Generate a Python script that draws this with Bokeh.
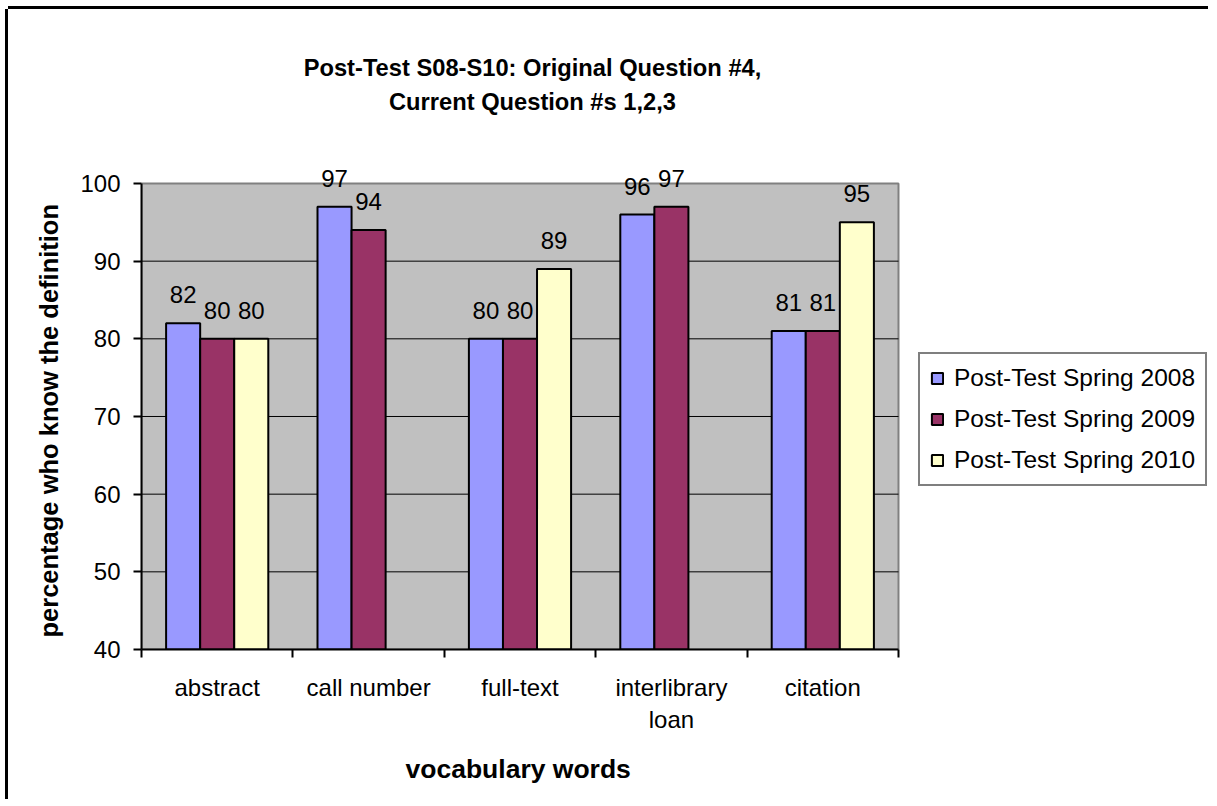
from bokeh.plotting import figure
from bokeh.models import (Range1d, FixedTicker, LabelSet, Label, Legend, LegendItem,
                          ColumnDataSource, Title)
from bokeh.core.properties import value
from bokeh.embed import file_html
from bokeh.resources import INLINE

categories = ["abstract", "call number", "full-text", "interlibrary\nloan", "citation"]
series_names = ["Post-Test Spring 2008", "Post-Test Spring 2009", "Post-Test Spring 2010"]
spring_2008 = [82, 97, 80, 96, 81]
spring_2009 = [80, 94, 80, 97, 81]
spring_2010 = [80, None, 89, None, 95]
colors = ["#9999FF", "#993366", "#FFFFCC"]
y_ticks = [40, 50, 60, 70, 80, 90, 100]
grid_ticks = [50, 60, 70, 80, 90]
title_lines = ["Post-Test S08-S10: Original Question #4,", "Current Question #s 1,2,3"]
x_label = "vocabulary words"
y_label = "percentage who know the definition"

FONT = "Liberation Sans"
BAR_W = 0.225
N = len(categories)
Y_MIN, Y_MAX = 40, 100
Y_TOP = 118.41   # room above the plot area for the title
X_END = 7.0476   # room right of the plot area for the legend

p = figure(width=1200, height=790, output_backend="svg", toolbar_location=None,
           x_range=Range1d(0, X_END), y_range=Range1d(Y_MIN, Y_TOP),
           min_border_left=133, min_border_top=31, min_border_right=0,
           min_border_bottom=150,
           background_fill_color="white", border_fill_color="white",
           outline_line_color=None)
p.styles = {"position": "relative", "left": "8px", "top": "9px",
            "margin-bottom": "-14px", "background-color": "white",
            "box-shadow": "-3px 0px 0px 0px black, 0px -3px 0px 0px black"}

# gray plot area
p.quad(left=[0], right=[N], bottom=[Y_MIN], top=[Y_MAX],
       fill_color="#C0C0C0", line_color="#808080", line_width=2, level="image")
# grid lines inside the plot area
p.segment(x0=[0] * len(grid_ticks), x1=[N] * len(grid_ticks), y0=grid_ticks, y1=grid_ticks,
          line_color="black", line_width=1, level="image")
p.xgrid.visible = False
p.ygrid.visible = False

renderers = []
for k, (vals, col) in enumerate(zip([spring_2008, spring_2009, spring_2010], colors)):
    xs, ys = [], []
    for i, v in enumerate(vals):
        if v is None:
            continue
        xs.append(i + 0.5 + (k - 1) * BAR_W)
        ys.append(v)
    src = ColumnDataSource(dict(x=xs, top=ys, txt=[str(v) for v in ys]))
    r = p.vbar(x="x", top="top", bottom=Y_MIN, width=BAR_W, source=src,
               fill_color=col, line_color="black", line_width=2)
    renderers.append(r)
    lbl = LabelSet(x="x", y="top", text="txt", source=src, y_offset=20,
                   text_align="center", text_baseline="alphabetic",
                   text_font=value(FONT), text_font_size="24px", text_color="black")
    p.add_layout(lbl)

# x axis
xa = p.xaxis[0]
xa.bounds = (0, N)
xa.ticker = FixedTicker(ticks=[i + 0.5 for i in range(N)], minor_ticks=list(range(N + 1)))
xa.major_label_overrides = {i + 0.5: c for i, c in enumerate(categories)}
xa.major_tick_line_color = None
xa.minor_tick_line_color = "black"
xa.minor_tick_line_width = 2
xa.minor_tick_out = 8
xa.minor_tick_in = 0
xa.axis_line_color = "black"
xa.axis_line_width = 2
xa.major_label_text_font = FONT
xa.major_label_text_font_size = "24px"
xa.major_label_text_color = "black"
xa.major_label_standoff = 16

# y axis
ya = p.yaxis[0]
ya.ticker = FixedTicker(ticks=y_ticks, minor_ticks=[])
ya.bounds = (Y_MIN, Y_MAX)
ya.major_tick_out = 8
ya.major_tick_in = 0
ya.major_tick_line_width = 2
ya.major_tick_line_color = "black"
ya.axis_line_color = "black"
ya.axis_line_width = 2
ya.major_label_text_font = FONT
ya.major_label_text_font_size = "24px"
ya.major_label_text_color = "black"
ya.major_label_standoff = 13

# axis titles
p.add_layout(Title(text=y_label, align="left", offset=12, standoff=30,
                   text_font=FONT, text_font_size="25.5px", text_font_style="bold",
                   text_color="black"), "left")
p.add_layout(Title(text=x_label, align="left", offset=264, standoff=32,
                   text_font=FONT, text_font_size="26.5px", text_font_style="bold",
                   text_color="black"), "below")

# chart title
title_y = [582, 548]
for line, ty in zip(title_lines, title_y):
    p.add_layout(Label(x=391, y=ty, x_units="screen", y_units="screen",
                       text=line, text_align="center", text_baseline="alphabetic",
                       text_font=FONT, text_font_size="23.7px", text_font_style="bold",
                       text_color="black"))

legend = Legend(items=[LegendItem(label=n, renderers=[r]) for n, r in zip(series_names, renderers)],
                location=(777, 163), orientation="vertical",
                glyph_width=14, glyph_height=14, label_standoff=10,
                label_text_font=FONT, label_text_font_size="24.5px",
                label_text_color="black", label_height=28, spacing=13,
                padding=10, margin=0,
                border_line_color="black", border_line_width=2,
                background_fill_color="white", background_fill_alpha=1)
p.add_layout(legend)

open("out.html", "w").write(file_html(p, INLINE))
